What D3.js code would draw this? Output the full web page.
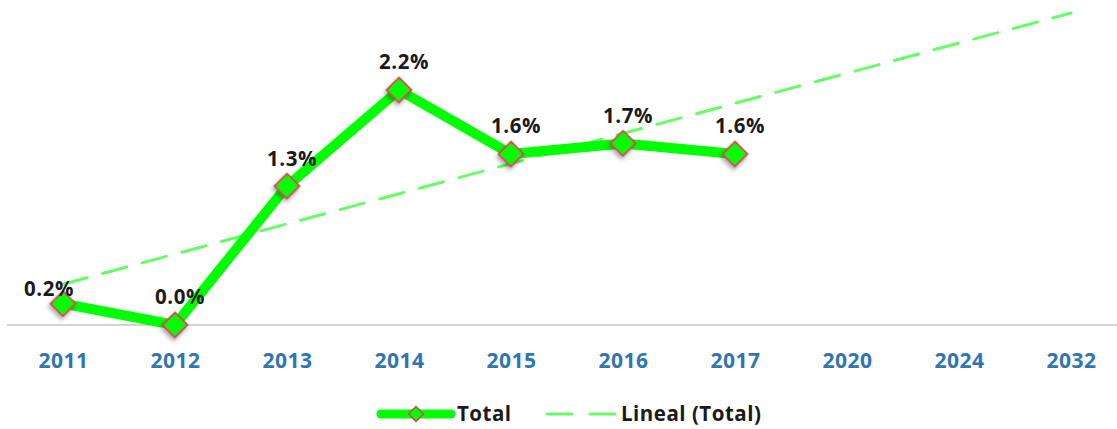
<!DOCTYPE html>
<html>
<head>
<meta charset="utf-8">
<script src="https://cdn.jsdelivr.net/npm/d3@7/dist/d3.min.js"></script>
<style>
  html, body { margin: 0; padding: 0; background: #fff; }
  svg { display: block; }
  text { font-family: "Open Sans", "Noto Sans", sans-serif; font-weight: bold; letter-spacing: 0.5px; }
</style>
</head>
<body>
<svg id="chart" width="1117" height="429"></svg>
<script>
// Categories along the x axis (years, last three are projection slots)
const categories = ["2011", "2012", "2013", "2014", "2015", "2016", "2017", "2020", "2024", "2032"];
// Observed growth values (%) for the first seven years
const totalValues = [0.2, 0.0, 1.3, 2.2, 1.6, 1.7, 1.6];
const seriesName = "Total";
const trendName = "Lineal (Total)";

const W = 1117, H = 429;
const svg = d3.select("#chart");

const x = d3.scalePoint().domain(categories).range([63, 1071]);
const y = d3.scaleLinear().domain([0, 2.2]).range([325, 90]);

// Least-squares linear trend over the observed points, projected across all categories
const xs = totalValues.map((_, i) => i + 1);
const mx = d3.mean(xs), my = d3.mean(totalValues);
const slope = d3.sum(xs, (xi, i) => (xi - mx) * (totalValues[i] - my)) / d3.sum(xs, xi => (xi - mx) ** 2);
const intercept = my - slope * mx;
const trend = categories.map((c, i) => ({ c, v: intercept + slope * (i + 1) }));

// Drop shadow for the markers
const defs = svg.append("defs");
const f = defs.append("filter").attr("id", "shadow").attr("x", "-50%").attr("y", "-50%").attr("width", "200%").attr("height", "200%");
f.append("feDropShadow").attr("dx", 1).attr("dy", 3).attr("stdDeviation", 2).attr("flood-color", "#000").attr("flood-opacity", 0.35);

// Baseline axis
svg.append("line")
  .attr("x1", 7).attr("x2", W).attr("y1", y(0)).attr("y2", y(0))
  .attr("stroke", "#a6a6a6").attr("stroke-width", 1);

// Category labels
const xAxis = d3.axisBottom(x).tickSize(0).tickPadding(0);
const gx = svg.append("g").attr("transform", `translate(0,${y(0) + 35})`).call(xAxis);
gx.select(".domain").remove();
gx.selectAll("text")
  .attr("fill", "#2e75b6")
  .attr("font-size", 21)
  .attr("font-family", "'Open Sans', sans-serif")
  .attr("font-weight", "bold")
  .attr("dy", "0.36em");

// Trend line
svg.append("path")
  .datum(trend)
  .attr("d", d3.line().x(d => x(d.c)).y(d => y(d.v)))
  .attr("fill", "none")
  .attr("stroke", "#66ff66")
  .attr("stroke-width", 3)
  .attr("stroke-linecap", "round")
  .attr("stroke-dasharray", "25 16");

// Main series line
const pts = totalValues.map((v, i) => ({ c: categories[i], v }));
svg.append("path")
  .datum(pts)
  .attr("d", d3.line().x(d => x(d.c)).y(d => y(d.v)))
  .attr("fill", "none")
  .attr("stroke", "#00ff00")
  .attr("stroke-width", 10)
  .attr("stroke-linejoin", "round");

// Diamond markers
const diamond = d3.symbol().type(d3.symbolSquare).size(300);
svg.append("g").selectAll("path")
  .data(pts)
  .join("path")
  .attr("d", diamond)
  .attr("transform", d => `translate(${x(d.c)},${y(d.v)}) rotate(45)`)
  .attr("fill", "#00ff00")
  .attr("stroke", "#c0504d")
  .attr("stroke-width", 2)
  .attr("filter", "url(#shadow)");

// Value labels (first one sits to the left of its marker)
svg.append("g").selectAll("text")
  .data(pts)
  .join("text")
  .attr("x", (d, i) => x(d.c) + (i === 0 ? -14 : 5))
  .attr("y", (d, i) => y(d.v) + (i === 0 ? -15 : -28))
  .attr("dy", "0.36em")
  .attr("text-anchor", "middle")
  .attr("font-size", 20.5)
  .attr("fill", "#1a1a1a")
  .text(d => d3.format(".1f")(d.v) + "%");

// Legend
const lg = svg.append("g").attr("transform", "translate(0,414)");
lg.append("line").attr("x1", 381).attr("x2", 451).attr("y1", 0).attr("y2", 0)
  .attr("stroke", "#00ff00").attr("stroke-width", 9).attr("stroke-linecap", "round");
lg.append("path").attr("d", d3.symbol().type(d3.symbolSquare).size(110))
  .attr("transform", "translate(416,0) rotate(45)")
  .attr("fill", "#00ff00").attr("stroke", "#c0504d").attr("stroke-width", 1.5);
lg.append("text").attr("x", 457).attr("y", 0).attr("dy", "0.36em")
  .attr("font-size", 20.5).attr("fill", "#1a1a1a").text(seriesName);
lg.append("line").attr("x1", 547).attr("x2", 615).attr("y1", 0).attr("y2", 0)
  .attr("stroke", "#66ff66").attr("stroke-width", 3).attr("stroke-linecap", "round").attr("stroke-dasharray", "25 18");
lg.append("text").attr("x", 621).attr("y", 0).attr("dy", "0.36em")
  .attr("font-size", 20.5).attr("fill", "#1a1a1a").text(trendName);
</script>
</body>
</html>
